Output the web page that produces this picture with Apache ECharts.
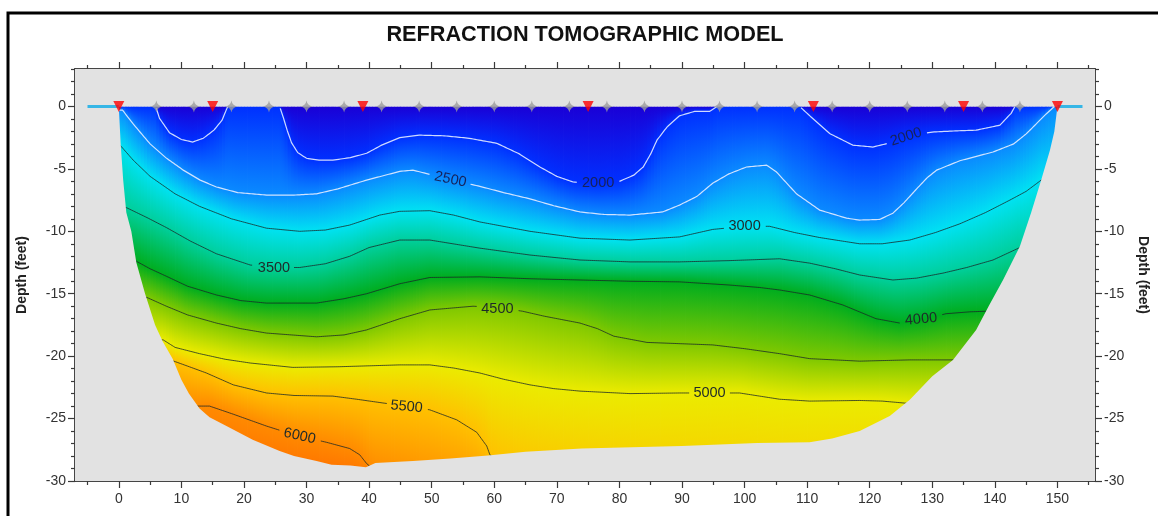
<!DOCTYPE html>
<html>
<head>
<meta charset="utf-8">
<script src="https://cdn.jsdelivr.net/npm/echarts@6/dist/echarts.min.js"></script>
<style>
html,body{margin:0;padding:0;background:#ffffff;}
#chart{width:1158px;height:516px;}
</style>
</head>
<body>
<div id="chart"></div>
<script>
// ---------------- DATA ----------------
const chartTitle = 'REFRACTION TOMOGRAPHIC MODEL';
const axisTitle = 'Depth (feet)';
const distanceTicks = [0,10,20,30,40,50,60,70,80,90,100,110,120,130,140,150];
const distanceMinorTicks = [-5,5,15,25,35,45,55,65,75,85,95,105,115,125,135,145,155];
const depthTicks = [0,-5,-10,-15,-20,-25,-30];
const depthMinorTicks = [3,2,1,-1,-2,-3,-4,-6,-7,-8,-9,-11,-12,-13,-14,-16,-17,-18,-19,-21,-22,-23,-24,-26,-27,-28,-29];

const sources = [0,15,39,75,111,135,150];
const receivers = [6,12,18,24,30,36,42,48,54,60,66,72,78,84,90,96,102,108,114,120,126,132,138,144];
const surfaceLeft = [[-5,0],[0,0]];
const surfaceRight = [[150,0],[154,0]];

// velocity levels (ft/s) of the contour lines
const levels = [2000,2500,3000,3500,4000,4500,5000,5500,6000];

// outline of the model (distance, depth)
const modelBoundary = [[0,0],[150,0],[149.5,-2],[148.8,-3.5],[147.4,-5.9],[145.8,-8.5],[144,-11.2],[141.3,-13.9],[139,-16],[137,-17.9],[133.3,-20.3],[130,-21.6],[126.4,-23.5],[123.2,-24.8],[118.4,-26.0],[114,-26.6],[110.4,-26.9],[102,-26.95],[90,-27.2],[74,-27.4],[65,-27.65],[59,-27.95],[53,-28.2],[47,-28.4],[41,-28.55],[39.5,-28.9],[37,-28.75],[34,-28.7],[31.6,-28.4],[28,-28.0],[25.7,-27.6],[21.4,-26.7],[17.2,-25.6],[14.5,-24.9],[12.9,-24.2],[11.2,-23.0],[10,-21.9],[8.6,-20.2],[7,-18.8],[5.8,-17.5],[4.2,-15],[2.8,-12.5],[2,-10],[1.2,-8.5],[0.7,-5.9],[0.3,-3]];

// contour lines (distance, depth); points outside the model are hidden by the outline
const contour2000 = [[-7,0],[5.9,0],[6.5,-0.95],[8.1,-2.1],[10,-2.65],[11.8,-2.85],[13.5,-2.55],[15.2,-1.9],[16.5,-1.1],[17.4,0],[25.7,0],[26.3,-0.9],[26.9,-1.9],[27.6,-2.9],[28.6,-3.7],[30,-4.15],[32,-4.3],[34.2,-4.3],[37,-4.1],[39.6,-3.75],[42,-3.1],[44.9,-2.5],[48,-2.3],[52,-2.35],[56,-2.55],[60.4,-2.95],[64,-3.8],[67.3,-4.85],[70,-5.6],[72.6,-6.05],[76.5,-6.2],[80,-6.0],[82.3,-5.5],[83.8,-4.85],[85,-3.8],[86,-2.7],[87.6,-1.65],[89.6,-0.75],[92,-0.4],[94.4,-0.4],[95.6,0],[108.8,0],[110.9,-0.97],[113.6,-2.17],[117.3,-3.1],[120.5,-3.25],[123,-2.95],[125.8,-2.45],[128,-2.2],[130,-2.05],[134,-1.95],[137,-1.9],[140.8,-1.5],[142.6,-0.55],[143.2,0],[156,0]];
const contour2500 = [[-7,-0.3],[0.6,-0.3],[2.3,-1.4],[5,-3],[7.5,-4.1],[10.3,-5.1],[13,-5.9],[15.6,-6.45],[19,-6.9],[23.6,-7.1],[28,-7.1],[31.6,-7.0],[35,-6.6],[39.6,-5.9],[44.9,-5.2],[47,-5.1],[52.9,-5.85],[57.7,-6.4],[61.5,-6.9],[65.7,-7.4],[69.5,-7.95],[73.7,-8.45],[77.5,-8.65],[81.7,-8.7],[86.9,-8.45],[89.6,-7.9],[92.4,-7.2],[94.9,-6.15],[97.5,-5.4],[100.3,-4.85],[103.5,-4.7],[105.1,-5.25],[108.3,-7.0],[112,-8.3],[116.3,-8.95],[118.4,-9.1],[121.6,-9.05],[123.7,-8.55],[125.5,-7.7],[127.5,-6.6],[129.2,-5.7],[130.7,-5.1],[134.4,-4.35],[139.7,-3.65],[143,-3.0],[145,-2.2],[146.8,-1.3],[148.2,-0.6],[149.5,0],[156,0]];
const contour3000 = [[-7,-3.1],[0.2,-3.1],[2.3,-4.3],[5,-5.6],[9,-7.0],[12.9,-8.0],[18,-9.0],[23.6,-9.75],[28.9,-10.0],[33,-9.9],[36.9,-9.5],[41.7,-8.7],[44.9,-8.4],[49.7,-8.35],[53.5,-8.7],[57.7,-9.25],[65.7,-10.0],[73.7,-10.55],[81.7,-10.7],[89.6,-10.45],[94.9,-9.85],[100,-9.6],[104,-9.6],[108,-10.1],[112,-10.5],[118.4,-11.0],[122,-11.0],[126.4,-10.7],[130.5,-10.1],[134.4,-9.4],[138.5,-8.5],[142.4,-7.5],[145,-6.8],[147.4,-5.9],[156,-5.9]];
const contour3500 = [[-7,-8.1],[1.2,-8.1],[4.5,-8.9],[7.6,-9.7],[11.5,-10.8],[15.6,-11.8],[21,-12.7],[25,-12.9],[28.9,-12.9],[33,-12.6],[36.9,-12.0],[40,-11.3],[44.9,-10.7],[49.7,-10.7],[57.7,-11.35],[65.7,-11.9],[73.7,-12.3],[81.7,-12.45],[89.6,-12.45],[97.5,-12.35],[105.6,-12.2],[110.4,-12.55],[114.5,-13.0],[118.4,-13.5],[123.7,-13.9],[127.5,-13.75],[131.7,-13.35],[135.5,-12.9],[139.7,-12.3],[144,-11.3],[156,-11.3]];
const contour4000 = [[-7,-12.4],[2.8,-12.4],[5,-13.0],[7.6,-13.6],[11,-14.4],[15.6,-15.1],[19.5,-15.55],[23.6,-15.75],[31.6,-15.75],[36,-15.4],[39.6,-15.0],[44.9,-14.2],[49.7,-13.7],[57.7,-13.65],[65.7,-13.8],[73.7,-13.9],[81.7,-14.0],[89.6,-14.05],[97.5,-14.3],[102.4,-14.5],[105.6,-14.7],[110.4,-15.1],[115.7,-15.9],[121,-17.0],[124.8,-17.35],[128.2,-17.1],[132.2,-16.6],[136,-16.45],[138.7,-16.4],[156,-16.4]];
const contour4500 = [[-7,-15.3],[4.5,-15.3],[7.6,-16.0],[11,-16.7],[15.6,-17.35],[19.5,-17.8],[23.6,-18.15],[31.6,-18.45],[36,-18.3],[39.6,-17.9],[44.9,-17.0],[49.7,-16.3],[56.6,-16.0],[60.5,-16.1],[64.5,-16.4],[68,-16.8],[73.7,-17.35],[76.5,-17.8],[79.1,-18.4],[84.4,-18.9],[94.9,-19.1],[100,-19.4],[105.6,-19.8],[110.4,-20.2],[118.4,-20.4],[126.4,-20.3],[133.6,-20.3],[156,-20.3]];
const contour5000 = [[-7,-18.7],[7.1,-18.7],[9,-19.3],[12.9,-19.8],[17,-20.25],[21,-20.55],[27.8,-20.9],[35,-20.85],[44.9,-20.7],[49.7,-20.7],[53.5,-20.95],[57.7,-21.35],[61.5,-21.85],[65.7,-22.3],[69.5,-22.6],[73.7,-22.8],[81.7,-23.0],[89.6,-22.95],[99.2,-22.95],[102.4,-23.2],[105.6,-23.45],[110.4,-23.6],[118.4,-23.55],[122,-23.6],[126.5,-23.8],[156,-23.8]];
const contour5500 = [[-7,-20.4],[8.8,-20.4],[11,-20.8],[14,-21.35],[18.3,-22.3],[23.6,-22.95],[28,-23.15],[34.2,-23.2],[38,-23.45],[42.2,-23.75],[46,-24.0],[49.7,-24.3],[54,-25.1],[57.2,-26.1],[58.8,-27.2],[59.3,-27.9],[61,-28.6],[65,-29.5],[72,-30.6],[85,-32],[100,-33],[156,-34]];
const contour6000 = [[-7,-24.0],[14.5,-24.0],[18.3,-24.65],[23.6,-25.6],[28,-26.3],[33.2,-26.9],[36.9,-27.4],[38.5,-27.9],[39.6,-28.6],[41,-29.2],[45,-29.8],[50,-30.6],[56,-31.5],[60,-33],[100,-35],[156,-36]];
const contours = [contour2000,contour2500,contour3000,contour3500,contour4000,contour4500,contour5000,contour5500,contour6000];

// where each contour carries its value label: [distance, depth, text angle in degrees]
const contourLabelAt = [
  [[76.6,-6.15,0],[125.8,-2.45,18]],
  [[53,-5.85,-12]],
  [[100,-9.6,0]],
  [[24.8,-12.9,0]],
  [[128.2,-17.05,5]],
  [[60.5,-16.2,0]],
  [[94.4,-22.95,0]],
  [[46,-24.05,-5]],
  [[28.9,-26.4,-12]]
];

// ---------------- STYLE ----------------
// colours at: surface, each level, and deep bottom of the model
const fieldColors = ['#1a00d6','#0030ff','#0a8aff','#00e2f2','#00cf9c','#00ad1e','#7fc800','#ebeb00','#ffc000','#ff8a00','#ff6000'];
const plotGray = '#e2e2e2';
const FONT = '"Liberation Sans", Arial, Helvetica, sans-serif';

function depthAt(arr, x) {
  if (x <= arr[0][0]) return arr[0][1];
  for (let i = 1; i < arr.length; i++) {
    if (x <= arr[i][0]) {
      const x0 = arr[i-1][0], y0 = arr[i-1][1], x1 = arr[i][0], y1 = arr[i][1];
      if (x1 === x0) return y1;
      return y0 + (x - x0) / (x1 - x0) * (y1 - y0);
    }
  }
  return arr[arr.length-1][1];
}

const surfaceDepth = [[-7,0],[156,0]];
const bottomDepth = [[-7,-31],[156,-31]];
const layers = [surfaceDepth].concat(contours).concat([bottomDepth]);

// column edges for painting the velocity field
const xMinModel = 0, xMaxModel = 150;
let edgeSet = new Set();
for (let x = xMinModel; x <= xMaxModel; x += 0.5) edgeSet.add(+x.toFixed(3));
contours.forEach(c => c.forEach(p => { if (p[0] > xMinModel && p[0] < xMaxModel) edgeSet.add(p[0]); }));
const edges = Array.from(edgeSet).sort((a,b)=>a-b);

function renderField(params, api) {
  const children = [];
  for (let k = 0; k < layers.length - 1; k++) {
    const top = layers[k], bot = layers[k+1];
    for (let i = 0; i < edges.length - 1; i++) {
      const xa = edges[i], xb = edges[i+1];
      const t0 = depthAt(top, xa), t1 = depthAt(top, xb);
      const b0 = Math.min(depthAt(bot, xa), t0), b1 = Math.min(depthAt(bot, xb), t1);
      if (t0 - b0 < 0.01 && t1 - b1 < 0.01) continue;
      const pT0 = api.coord([xa, t0]), pT1 = api.coord([xb, t1]);
      const pB0 = api.coord([xa, b0]), pB1 = api.coord([xb, b1]);
      const ext = (k < layers.length - 2) ? 1.2 : 0;
      const yT = (pT0[1] + pT1[1]) / 2, yB = (pB0[1] + pB1[1]) / 2;
      children.push({
        type: 'polygon',
        shape: { points: [[pT0[0], pT0[1]], [pT1[0] + 0.8, pT1[1]], [pB1[0] + 0.8, pB1[1] + ext], [pB0[0], pB0[1] + ext]] },
        style: {
          fill: { type: 'linear', x: 0, y: yT, x2: 0, y2: Math.max(yB, yT + 0.5), global: true,
                  colorStops: [{ offset: 0, color: fieldColors[k] }, { offset: 1, color: fieldColors[k+1] }] },
          stroke: null
        }
      });
    }
  }
  return { type: 'group', children: children };
}

function renderContours(params, api) {
  const children = [];
  contours.forEach((c, ci) => {
    const light = ci < 2;
    const txt = String(levels[ci]);
    const boxes = contourLabelAt[ci].map(l => {
      const p = api.coord([l[0], l[1]]);
      return { cx: p[0], cy: p[1], a: l[2] * Math.PI / 180, hw: 20, hh: 7 };
    });
    const inBox = (px, py) => boxes.some(b => {
      const dx = px - b.cx, dy = py - b.cy;
      const u = dx * Math.cos(b.a) - dy * Math.sin(b.a);
      const v = dx * Math.sin(b.a) + dy * Math.cos(b.a);
      return Math.abs(u) < b.hw && Math.abs(v) < b.hh;
    });
    const pieces = [];
    let cur = [];
    for (let j = 1; j < c.length; j++) {
      const a = c[j-1], b = c[j];
      const onSurface = a[1] === 0 && b[1] === 0;
      const pa = api.coord(a), pb = api.coord(b);
      const n = Math.max(1, Math.ceil(Math.hypot(pb[0]-pa[0], pb[1]-pa[1]) / 2));
      for (let s = 0; s <= n; s++) {
        if (s === 0 && j > 1) continue;
        const t = s / n;
        const px = pa[0] + (pb[0]-pa[0]) * t, py = pa[1] + (pb[1]-pa[1]) * t;
        if (onSurface || inBox(px, py)) {
          if (cur.length > 1) pieces.push(cur);
          cur = [];
        } else {
          cur.push([px, py]);
        }
      }
    }
    if (cur.length > 1) pieces.push(cur);
    pieces.forEach(pts => children.push({
      type: 'polyline',
      shape: { points: pts },
      style: { stroke: light ? 'rgba(228,236,255,0.9)' : 'rgba(25,40,40,0.78)', lineWidth: light ? 1.2 : 1, fill: null }
    }));
    boxes.forEach(b => children.push({
      type: 'text', x: b.cx, y: b.cy, rotation: b.a,
      style: { text: txt, font: '14.5px ' + FONT, fill: light ? '#17225a' : '#1e2a2a', align: 'center', verticalAlign: 'middle' }
    }));
  });
  return { type: 'group', children: children };
}

function renderMask(params, api) {
  const cs = params.coordSys;
  const x0 = cs.x, y0 = cs.y, x1 = cs.x + cs.width, y1 = cs.y + cs.height;
  const body = modelBoundary.map(p => api.coord(p));
  const ys = body[0][1];
  const pts = [[x0, ys], [x0, y1], [x1, y1], [x1, y0], [x0, y0], [x0, ys]];
  body.forEach(p => pts.push([p[0], p[1]]));
  pts.push([body[0][0], body[0][1]]);
  return { type: 'polygon', shape: { points: pts }, style: { fill: plotGray, stroke: null } };
}

const axisColor = '#3a3a3a';
const labelStyle = { color: '#333', fontSize: 14, fontFamily: FONT };
function xAx(pos, ticks, len, labels) {
  return {
    type: 'value', position: pos, min: -7, max: 156,
    axisLine: { show: true, onZero: false, lineStyle: { color: axisColor, width: 1.5 } },
    axisTick: { show: true, inside: false, length: len, customValues: ticks, lineStyle: { color: axisColor, width: 1.2 } },
    axisLabel: labels ? Object.assign({ show: true, margin: 11, customValues: ticks }, labelStyle) : { show: false },
    splitLine: { show: false }
  };
}
function yAx(pos, ticks, len, labels) {
  return {
    type: 'value', position: pos, min: -30, max: 3,
    axisLine: { show: true, onZero: false, lineStyle: { color: axisColor, width: 1.5 } },
    axisTick: { show: true, inside: false, length: len, customValues: ticks, lineStyle: { color: axisColor, width: 1.2 } },
    axisLabel: labels ? Object.assign({ show: true, margin: 9, customValues: ticks }, labelStyle) : { show: false },
    splitLine: { show: false }
  };
}

const receiverSymbol = 'path://M5 0Q5.7 4.3 10 5Q5.7 5.7 5 10Q4.3 5.7 0 5Q4.3 4.3 5 0Z';

const option = {
  animation: false,
  backgroundColor: '#ffffff',
  grid: { left: 75, right: 63, top: 69, bottom: 35, show: true, backgroundColor: plotGray, borderWidth: 0 },
  xAxis: [
    xAx('bottom', distanceTicks, 7, true),
    xAx('bottom', distanceMinorTicks, 4, false),
    xAx('top', distanceTicks, 7, false),
    xAx('top', distanceMinorTicks, 4, false)
  ],
  yAxis: [
    yAx('left', depthTicks, 7, true),
    yAx('left', depthMinorTicks, 4, false),
    yAx('right', depthTicks, 7, true),
    yAx('right', depthMinorTicks, 4, false)
  ],
  graphic: [
    { type: 'rect', shape: { x: 8, y: 13, width: 1200, height: 600 }, style: { fill: 'none', stroke: '#000', lineWidth: 3 }, z: 100 },
    { type: 'text', x: 585, y: 35, style: { text: chartTitle, font: 'bold 21.7px ' + FONT, fill: '#111', align: 'center', verticalAlign: 'middle' } },
    { type: 'text', x: 22.5, y: 275, rotation: Math.PI / 2, style: { text: axisTitle, font: 'bold 14px ' + FONT, fill: '#222', align: 'center', verticalAlign: 'middle' } },
    { type: 'text', x: 1143, y: 275, rotation: -Math.PI / 2, style: { text: axisTitle, font: 'bold 14px ' + FONT, fill: '#222', align: 'center', verticalAlign: 'middle' } }
  ],
  series: [
    { type: 'custom', name: 'velocity', z: 1, clip: true, silent: true, data: [[0, 0]], renderItem: renderField },
    { type: 'custom', name: 'contours', z: 3, clip: true, silent: true, data: [[0, 0]], renderItem: renderContours },
    { type: 'custom', name: 'outline', z: 4, clip: true, silent: true, data: [[0, 0]], renderItem: renderMask },
    { type: 'line', name: 'spread', z: 5, data: surfaceLeft, symbol: 'none', silent: true, lineStyle: { color: '#36b6e6', width: 3 } },
    { type: 'line', name: 'spread', z: 5, data: surfaceRight, symbol: 'none', silent: true, lineStyle: { color: '#36b6e6', width: 3 } },
    { type: 'scatter', name: 'receivers', z: 6, silent: true, data: receivers.map(x => [x, 0]), symbol: receiverSymbol, symbolSize: [12, 12], itemStyle: { color: '#9c9c9c' } },
    { type: 'scatter', name: 'sources', z: 7, silent: true, data: sources.map(x => [x, 0]), symbol: 'triangle', symbolRotate: 180, symbolSize: [11, 11], itemStyle: { color: '#ff0000' } }
  ]
};

const chart = echarts.init(document.getElementById('chart'), null, { renderer: 'canvas' });
chart.setOption(option);
</script>
</body>
</html>
